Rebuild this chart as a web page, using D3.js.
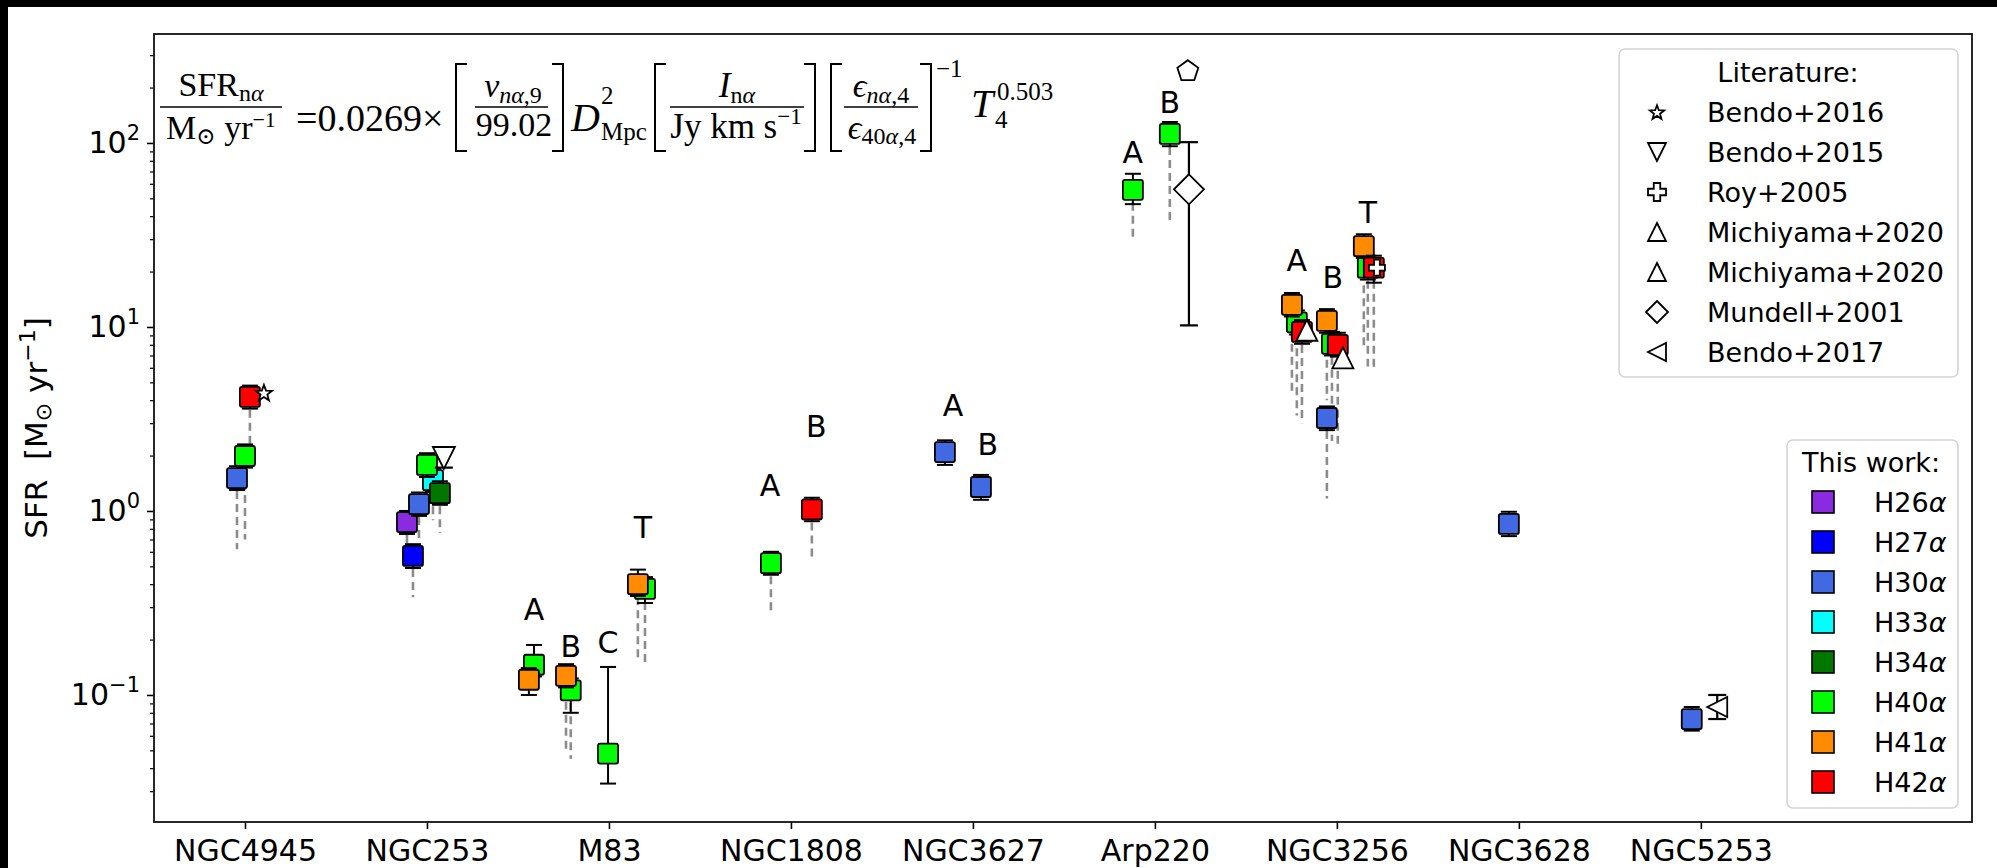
<!DOCTYPE html>
<html>
<head>
<meta charset="utf-8">
<script src="https://cdn.jsdelivr.net/npm/d3@7"></script>
<style>
  html, body { margin: 0; padding: 0; background: #fff; }
  svg { display: block; }
</style>
</head>
<body>
<svg id="chart" width="1997" height="868"></svg>
<script>
// ---------------- data ----------------
const galaxies = ["NGC4945", "NGC253", "M83", "NGC1808", "NGC3627", "Arp220", "NGC3256", "NGC3628", "NGC5253"];
const lineNames = ["H26", "H27", "H30", "H33", "H34", "H40", "H41", "H42"];

// Recombination-line SFR measurements (this work)
// galaxy index, shift along x (category units), line index, SFR, error low/high, lower end of dashed range
const ptGalaxy = [0, 0, 0, 1, 1, 1, 1, 1, 1, 2, 2, 2, 2, 2, 2, 2, 3, 3, 4, 4, 5, 5, 6, 6, 6, 6, 6, 6, 6, 6, 6, 6, 7, 8];
const ptShift  = [-0.044, 0.000, 0.027, -0.110, -0.077, -0.044, 0.033, 0.071, 0.000,
                  -0.412, -0.440, -0.236, -0.210, -0.005, 0.159, 0.198,
                  -0.110, 0.115, -0.154, 0.044, -0.121, 0.082,
                  -0.220, -0.247, -0.192, -0.055, -0.027, -0.055, 0.005, 0.170, 0.148, 0.203,
                  -0.055, -0.050];
const ptLine   = [2, 5, 7, 0, 1, 2, 3, 4, 5, 5, 6, 6, 5, 5, 6, 5, 5, 7, 2, 2, 5, 5, 5, 6, 7, 2, 5, 6, 7, 5, 6, 7, 2, 2];
const ptSFR    = [1.51, 1.99, 4.17, 0.87, 0.57, 1.09, 1.47, 1.25, 1.78,
                  0.146, 0.121, 0.127, 0.106, 0.048, 0.40, 0.377,
                  0.52, 1.02, 2.09, 1.35, 55.6, 112,
                  10.6, 13.2, 9.4, 3.2, 8.1, 10.8, 8.0, 21.0, 27.5, 21.0,
                  0.85, 0.074];
const ptLow    = [1.30, 1.72, 3.6, 0.75, 0.49, 0.94, 1.27, 1.08, 1.53,
                  0.126, 0.100, 0.110, 0.080, 0.033, 0.345, 0.316,
                  0.45, 0.88, 1.78, 1.15, 46.5, 96,
                  9.1, 11.4, 8.1, 2.75, 7.0, 9.3, 6.9, 18.1, 23.7, 17.4,
                  0.73, 0.064];
const ptHigh   = [1.75, 2.30, 4.8, 1.0, 0.66, 1.26, 1.70, 1.45, 2.06,
                  0.187, 0.140, 0.147, 0.123, 0.142, 0.48, 0.437,
                  0.60, 1.18, 2.42, 1.57, 68, 130,
                  12.3, 15.3, 10.9, 3.7, 9.4, 12.5, 9.3, 24.4, 31.9, 24.4,
                  0.99, 0.086];
const ptFloor  = [0.62, 0.70, 2.10, 0.55, 0.34, 0.67, 0.89, 0.76, 1.00,
                  null, null, 0.050, 0.045, null, 0.160, 0.150,
                  0.28, 0.56, null, null, 29.7, 35.8,
                  3.3, 4.5, 3.0, 1.17, 2.4, 4.0, 2.2, 6.1, 7.5, 5.8,
                  null, null];

// Literature values
const litNames  = ["Bendo+2016", "Bendo+2015", "Roy+2005", "Michiyama+2020", "Michiyama+2020", "Mundell+2001", "Bendo+2017"];
const litGalaxy = [0, 1, 6, 6, 6, 5, 8, 5];
const litShift  = [0.104, 0.093, 0.220, -0.165, 0.033, 0.187, 0.090, 0.181];
const litRef    = [0, 1, 2, 3, 4, 5, 6, -1];
const litSFR    = [4.4, 1.94, 21.0, 9.6, 6.8, 56, 0.086, 249];
const litLow    = [null, 1.72, null, null, null, 10.2, 0.074, null];
const litHigh   = [null, 2.15, null, null, null, 101, 0.100, null];

// Region labels (galaxy index, shift, SFR level)
const regText   = ["A", "B", "C", "T", "A", "B", "A", "B", "A", "B", "A", "B", "T"];
const regGalaxy = [2, 2, 2, 2, 3, 3, 4, 4, 5, 5, 6, 6, 6];
const regShift  = [-0.412, -0.210, -0.005, 0.187, -0.115, 0.140, -0.110, 0.082, -0.121, 0.082, -0.220, -0.022, 0.170];
const regSFR    = [0.29, 0.1845, 0.192, 0.818, 1.38, 2.86, 3.72, 2.31, 89.3, 165, 23.1, 18.5, 41.7];

const yTickExp = [-1, 0, 1, 2];

// ---------------- styles ----------------
const lineColor = ["#8a2be2", "#0000ff", "#4169e1", "#00ffff", "#007800", "#00ff00", "#ff8c00", "#ff0000"];
const litShape  = ["star", "triDown", "plus", "triUp", "triUp", "diamond", "triLeft"];
const SANS = "DejaVu Sans, sans-serif";
const SERIF = "Liberation Serif, DejaVu Serif, serif";

const svg = d3.select("#chart");
const plot = { left: 154, right: 1972, top: 34, bottom: 822 };

const x = d3.scaleLinear().domain([-0.5, 9.49]).range([plot.left, plot.right]);
const y = d3.scaleLog().domain([0.0204, 391]).range([plot.bottom, plot.top]);

// outer dark strips of the canvas
svg.append("rect").attr("x", 0).attr("y", 0).attr("width", 1997).attr("height", 7).attr("fill", "#000");
svg.append("rect").attr("x", 0).attr("y", 0).attr("width", 8).attr("height", 868).attr("fill", "#000");

// ---------------- marker shapes ----------------
function poly(pts) { return "M" + pts.map(p => p[0].toFixed(2) + "," + p[1].toFixed(2)).join("L") + "Z"; }
function shapePath(kind, s) {
  const h = s / 2;
  switch (kind) {
    case "square": return poly([[-h, -h], [h, -h], [h, h], [-h, h]]);
    case "triUp": return poly([[0, -h], [h, h], [-h, h]]);
    case "triDown": return poly([[0, h], [-h, -h], [h, -h]]);
    case "triLeft": return poly([[-h, 0], [h, -h], [h, h]]);
    case "diamond": return poly([[0, -h], [h, 0], [0, h], [-h, 0]]);
    case "pentagon": return poly(d3.range(5).map(k => {
      const a = -Math.PI / 2 + k * 2 * Math.PI / 5; return [h * Math.cos(a), h * Math.sin(a) + h * 0.1];
    }));
    case "star": return poly(d3.range(10).map(k => {
      const a = -Math.PI / 2 + k * Math.PI / 5, r = (k % 2 === 0) ? h : h * 0.42;
      return [r * Math.cos(a), r * Math.sin(a) + h * 0.1];
    }));
    case "plus": {
      const b = h * 0.36;
      return poly([[-b, -h], [b, -h], [b, -b], [h, -b], [h, b], [b, b], [b, h], [-b, h], [-b, b], [-h, b], [-h, -b], [-b, -b]]);
    }
  }
}
const litSize = { star: 17, triDown: 22, plus: 16, triUp: 21, diamond: 30, triLeft: 20, pentagon: 22 };

// ---------------- text helper (runs of sub/superscripts) ----------------
function richText(g, xPos, yPos, parts, opts) {
  const t = g.append("text").attr("x", xPos).attr("y", yPos)
    .attr("font-family", opts.family).attr("text-anchor", opts.anchor || "start")
    .attr("fill", "#000");
  if (opts.rotate) t.attr("transform", `rotate(${opts.rotate},${xPos},${yPos})`);
  if (opts.baseline) t.attr("dominant-baseline", opts.baseline);
  let prev = 0;
  parts.forEach(p => {
    const shift = p.shift || 0;
    const ts = t.append("tspan").attr("font-size", p.size).text(p.t);
    if (shift !== prev) ts.attr("dy", shift - prev);
    if (p.italic) ts.attr("font-style", "italic");
    prev = shift;
  });
  return t;
}

// ---------------- axes ----------------
const axG = svg.append("g");

// x axis ticks & labels
const xAxis = d3.axisBottom(x).tickValues(d3.range(galaxies.length)).tickFormat(i => galaxies[i]).tickSize(7).tickPadding(8).tickSizeOuter(0);
const xg = axG.append("g").attr("transform", `translate(0,${plot.bottom})`).call(xAxis);
xg.select(".domain").remove();
xg.selectAll("line").attr("stroke", "#000").attr("stroke-width", 1.6);
xg.selectAll("text").attr("font-family", SANS).attr("font-size", 30).attr("fill", "#000")
  .attr("dy", null).attr("y", 39);

// y axis major ticks
const yMaj = yTickExp.map(e => Math.pow(10, e));
const yg = axG.append("g").attr("transform", `translate(${plot.left},0)`)
  .call(d3.axisLeft(y).tickValues(yMaj).tickSize(7).tickFormat(""));
yg.select(".domain").remove();
yg.selectAll("line").attr("stroke", "#000").attr("stroke-width", 1.6);

// y axis minor ticks
const yMinor = [];
for (let e = -2; e <= 2; e++) for (let m = 2; m <= 9; m++) {
  const v = m * Math.pow(10, e);
  if (v > y.domain()[0] && v < y.domain()[1]) yMinor.push(v);
}
const ygm = axG.append("g").attr("transform", `translate(${plot.left},0)`)
  .call(d3.axisLeft(y).tickValues(yMinor).tickSize(4).tickFormat(""));
ygm.select(".domain").remove();
ygm.selectAll("line").attr("stroke", "#000").attr("stroke-width", 1.2);

// y tick labels as 10^k
yTickExp.forEach(e => {
  richText(axG, plot.left - 14, y(Math.pow(10, e)) + 10, [
    { t: "10", size: 30 },
    { t: e < 0 ? "\u2212" + (-e) : String(e), size: 21, shift: -13 }
  ], { family: SANS, anchor: "end" });
});

// y axis title
richText(axG, 47, (plot.top + plot.bottom) / 2, [
  { t: "SFR\u00a0\u00a0[M", size: 31 },
  { t: "\u2299", size: 22, shift: 4 },
  { t: "\u00a0yr", size: 31, shift: 0 },
  { t: "\u22121", size: 22, shift: -12 },
  { t: "]", size: 31, shift: 0 }
], { family: SANS, anchor: "middle", rotate: -90 });

// ---------------- data marks ----------------
const dataG = svg.append("g");
const ptIdx = d3.range(ptSFR.length);
const px = i => x(ptGalaxy[i] + ptShift[i]);

// dashed ranges below each measurement
dataG.append("g").selectAll("line")
  .data(ptIdx.filter(i => ptFloor[i] !== null))
  .join("line")
  .attr("x1", px).attr("x2", px)
  .attr("y1", i => y(ptSFR[i])).attr("y2", i => y(ptFloor[i]))
  .attr("stroke", "#8c8c8c").attr("stroke-width", 2.6).attr("stroke-dasharray", "8,5");

// error bars + squares, in line order so later lines sit on top
const order = ptIdx.slice().sort((a, b) => ptLine[a] - ptLine[b] || a - b);
const capW = 16;
order.forEach(i => {
  const g = dataG.append("g");
  const cx = px(i);
  g.append("line").attr("x1", cx).attr("x2", cx).attr("y1", y(ptLow[i])).attr("y2", y(ptHigh[i]))
    .attr("stroke", "#000").attr("stroke-width", 2);
  [ptLow[i], ptHigh[i]].forEach(v => g.append("line")
    .attr("x1", cx - capW / 2).attr("x2", cx + capW / 2).attr("y1", y(v)).attr("y2", y(v))
    .attr("stroke", "#000").attr("stroke-width", 2));
  g.append("rect").attr("x", cx - 10).attr("y", y(ptSFR[i]) - 10).attr("width", 20).attr("height", 20)
    .attr("rx", 2).attr("fill", lineColor[ptLine[i]]).attr("stroke", "#000").attr("stroke-width", 1.8);
});

// literature points
const litIdx = d3.range(litSFR.length);
litIdx.forEach(i => {
  const cx = x(litGalaxy[i] + litShift[i]);
  const g = dataG.append("g");
  if (litLow[i] !== null) {
    g.append("line").attr("x1", cx).attr("x2", cx).attr("y1", y(litLow[i])).attr("y2", y(litHigh[i]))
      .attr("stroke", "#000").attr("stroke-width", 2.2);
    [litLow[i], litHigh[i]].forEach(v => g.append("line")
      .attr("x1", cx - 9).attr("x2", cx + 9).attr("y1", y(v)).attr("y2", y(v))
      .attr("stroke", "#000").attr("stroke-width", 2.2));
  }
  const kind = litRef[i] >= 0 ? litShape[litRef[i]] : "pentagon";
  g.append("path").attr("d", shapePath(kind, litSize[kind]))
    .attr("transform", `translate(${cx},${y(litSFR[i])})`)
    .attr("fill", "#fff").attr("stroke", "#000").attr("stroke-width", 1.8).attr("stroke-linejoin", "miter");
});

// region labels
dataG.append("g").selectAll("text")
  .data(d3.range(regText.length))
  .join("text")
  .attr("x", i => x(regGalaxy[i] + regShift[i]))
  .attr("y", i => y(regSFR[i]))
  .attr("text-anchor", "middle").attr("dominant-baseline", "central")
  .attr("font-family", SANS).attr("font-size", 30).attr("fill", "#000")
  .text(i => regText[i]);

// frame
svg.append("rect").attr("x", plot.left).attr("y", plot.top)
  .attr("width", plot.right - plot.left).attr("height", plot.bottom - plot.top)
  .attr("fill", "none").attr("stroke", "#111").attr("stroke-width", 1.8);

// ---------------- formula ----------------
const fG = svg.append("g");
const fracBar = (x1, x2, yy) => fG.append("line").attr("x1", x1).attr("x2", x2).attr("y1", yy).attr("y2", yy)
  .attr("stroke", "#000").attr("stroke-width", 1.6);
function bracket(xv, dir) {
  // dir = 1 for '[', -1 for ']'
  const top = 64, bot = 151, arm = 11 * dir;
  fG.append("path").attr("d", `M${xv + arm},${top}H${xv}V${bot}H${xv + arm}`)
    .attr("fill", "none").attr("stroke", "#000").attr("stroke-width", 2);
}

richText(fG, 221, 96, [{ t: "SFR", size: 34 }, { t: "n", size: 24, shift: 5 }, { t: "\u03b1", size: 24, shift: 5, italic: true }],
  { family: SERIF, anchor: "middle" });
fracBar(160, 282, 107);
richText(fG, 221, 139, [{ t: "M", size: 34 }, { t: "\u2299", size: 23, shift: 5 }, { t: " yr", size: 34, shift: 0 }, { t: "\u22121", size: 22, shift: -12 }],
  { family: SERIF, anchor: "middle" });

richText(fG, 296, 131, [{ t: "=0.0269\u00d7", size: 38 }], { family: SERIF });

bracket(456, 1);
richText(fG, 513, 97, [{ t: "\u03bd", size: 34, italic: true }, { t: "n\u03b1", size: 24, shift: 6, italic: true }, { t: ",9", size: 24, shift: 6 }],
  { family: SERIF, anchor: "middle" });
fracBar(475, 548, 107);
richText(fG, 514, 136, [{ t: "99.02", size: 34 }], { family: SERIF, anchor: "middle" });
bracket(563, -1);

richText(fG, 571, 131, [{ t: "D", size: 40, italic: true }], { family: SERIF });
richText(fG, 601, 104, [{ t: "2", size: 25 }], { family: SERIF });
richText(fG, 601, 140, [{ t: "Mpc", size: 25 }], { family: SERIF });

bracket(655, 1);
richText(fG, 737, 97, [{ t: "I", size: 35, italic: true }, { t: "n", size: 24, shift: 6 }, { t: "\u03b1", size: 24, shift: 6, italic: true }],
  { family: SERIF, anchor: "middle" });
fracBar(670, 804, 107);
richText(fG, 736, 138, [{ t: "Jy km s", size: 35 }, { t: "\u22121", size: 23, shift: -14 }],
  { family: SERIF, anchor: "middle" });
bracket(815, -1);

bracket(831, 1);
richText(fG, 881, 97, [{ t: "\u03f5", size: 34, italic: true }, { t: "n\u03b1", size: 24, shift: 6, italic: true }, { t: ",4", size: 24, shift: 6 }],
  { family: SERIF, anchor: "middle" });
fracBar(844, 918, 107);
richText(fG, 882, 139, [{ t: "\u03f5", size: 34, italic: true }, { t: "40", size: 24, shift: 5 }, { t: "\u03b1", size: 24, shift: 5, italic: true }, { t: ",4", size: 24, shift: 5 }],
  { family: SERIF, anchor: "middle" });
bracket(931, -1);
richText(fG, 936, 77, [{ t: "\u22121", size: 25 }], { family: SERIF });

richText(fG, 971, 117, [{ t: "T", size: 40, italic: true }], { family: SERIF });
richText(fG, 997, 100, [{ t: "0.503", size: 25 }], { family: SERIF });
richText(fG, 995, 128, [{ t: "4", size: 25 }], { family: SERIF });

// ---------------- legends ----------------
const legG = svg.append("g");
function legendBox(x1, y1, x2, y2) {
  legG.append("rect").attr("x", x1).attr("y", y1).attr("width", x2 - x1).attr("height", y2 - y1)
    .attr("rx", 6).attr("fill", "#fff").attr("fill-opacity", 0.85)
    .attr("stroke", "#d4d4d4").attr("stroke-width", 1.6);
}

// literature legend
legendBox(1619, 49, 1958, 377);
legG.append("text").attr("x", 1788).attr("y", 72).attr("text-anchor", "middle").attr("dominant-baseline", "central")
  .attr("font-family", SANS).attr("font-size", 27).attr("fill", "#000").text("Literature:");
litNames.forEach((name, k) => {
  const ry = 112 + 40 * k;
  const kind = litShape[k];
  const s = kind === "diamond" ? 22 : (kind === "star" ? 15 : 18);
  legG.append("path").attr("d", shapePath(kind, s)).attr("transform", `translate(1657,${ry})`)
    .attr("fill", "#fff").attr("stroke", "#000").attr("stroke-width", 1.8);
  legG.append("text").attr("x", 1707).attr("y", ry).attr("dominant-baseline", "central")
    .attr("font-family", SANS).attr("font-size", 27).attr("fill", "#000").text(name);
});

// this-work legend
legendBox(1787, 440, 1958, 808);
legG.append("text").attr("x", 1871).attr("y", 462).attr("text-anchor", "middle").attr("dominant-baseline", "central")
  .attr("font-family", SANS).attr("font-size", 27).attr("fill", "#000").text("This work:");
lineNames.forEach((name, k) => {
  const ry = 502 + 40 * k;
  legG.append("rect").attr("x", 1812).attr("y", ry - 11).attr("width", 22).attr("height", 22)
    .attr("fill", lineColor[k]).attr("stroke", "#000").attr("stroke-width", 1.6);
  const t = legG.append("text").attr("x", 1874).attr("y", ry).attr("dominant-baseline", "central")
    .attr("font-family", SANS).attr("font-size", 27).attr("fill", "#000");
  t.append("tspan").text(name);
  t.append("tspan").attr("font-style", "italic").text("\u03b1");
});
</script>
</body>
</html>
